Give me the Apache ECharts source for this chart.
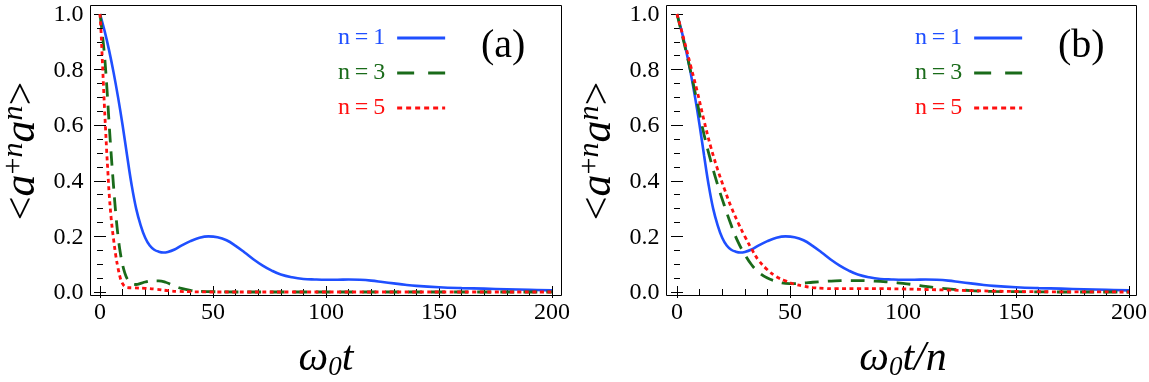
<!DOCTYPE html>
<html>
<head>
<meta charset="utf-8">
<script src="https://cdn.jsdelivr.net/npm/echarts@6/dist/echarts.min.js"></script>
<style>
  html, body { margin: 0; padding: 0; background: #fff; }
  #chart { width: 1149px; height: 382px; }
</style>
</head>
<body>
<div id="chart"></div>
<script>
// x ticks / y ticks
const xTicks = [0, 50, 100, 150, 200]
const yTicks = [0, 0.2, 0.4, 0.6, 0.8, 1.0]

// n=1 (same in both panels, t/n = t)
const blueT = [0,2,4,6,8,10,12,14,16,18,20,22,24,26,28,30,33,36,40,44,48,52,56,60,64,68,72,76,80,85,90,95,100,105,110,115,120,125,130,135,140,150,160,170,180,190,200]
const blueY = [1.0,0.94,0.87,0.79,0.70,0.60,0.49,0.385,0.30,0.24,0.195,0.167,0.152,0.145,0.142,0.144,0.153,0.167,0.183,0.195,0.2,0.197,0.186,0.166,0.142,0.117,0.095,0.077,0.063,0.053,0.047,0.045,0.044,0.044,0.045,0.044,0.041,0.036,0.031,0.026,0.022,0.017,0.014,0.012,0.010,0.008,0.006]

// panel (a), n=3 and n=5 vs w0 t
const greenAT = [0,1,2,3,4,5,6,7,8,9,10,11,12,13,14,16,18,20,23,26,29,32,36,40,45,50,60,80,100,150,200]
const greenAY = [1.0,0.93,0.85,0.74,0.61,0.49,0.38,0.28,0.2,0.14,0.098,0.068,0.048,0.036,0.03,0.027,0.031,0.036,0.04,0.04,0.035,0.025,0.013,0.006,0.002,0.001,0,0,0,0,0]
const redAT = [0,0.5,1,1.5,2,2.5,3,3.5,4,5,6,7,8,9,10,11,12,15,20,25,30,35,40,50,100,200]
const redAY = [1.0,0.93,0.84,0.75,0.66,0.58,0.5,0.43,0.36,0.26,0.19,0.13,0.085,0.05,0.03,0.02,0.016,0.015,0.013,0.01,0.005,0.002,0.001,0,0,0]

// panel (b), n=3 and n=5 vs w0 t / n
const greenBT = [0,3,6,9,12,15,18,21,24,27,30,33,36,40,44,48,52,56,60,65,70,75,80,85,90,95,100,105,110,115,120,130,140,150,170,200]
const greenBY = [1.0,0.9,0.795,0.68,0.565,0.47,0.385,0.31,0.24,0.18,0.135,0.098,0.072,0.05,0.038,0.031,0.03,0.032,0.035,0.038,0.04,0.041,0.041,0.04,0.038,0.035,0.031,0.026,0.02,0.015,0.011,0.005,0.002,0.001,0,0]
const redBT = [0,3,6,9,12,15,18,21,24,27,30,33,36,40,44,48,52,56,60,65,70,80,90,100,110,120,130,140,150,160,200]
const redBY = [1.0,0.91,0.815,0.72,0.615,0.52,0.44,0.37,0.305,0.25,0.2,0.155,0.115,0.08,0.055,0.04,0.028,0.021,0.016,0.013,0.012,0.012,0.012,0.011,0.009,0.007,0.005,0.003,0.002,0.001,0]

const BLUE = '#1f4fff', GREEN = '#1a6b1a', RED = '#ff1010'
const SERIF = '"Liberation Serif", "DejaVu Serif", serif'
const W = 1149

const pairs = (xs, ys) => xs.map((x, i) => [x, ys[i]])

// measure text width for centring
const ctx = document.createElement('canvas').getContext('2d')
const measure = (s, font) => { ctx.font = font + ' ' + SERIF; return ctx.measureText(s).width }

// layout of the two panels (data area + outer frame)
const panels = [
  { left: 100, top: 14, width: 452, height: 278, frame: [90.5, 5.5, 471, 290], tag: '(a)', xsub: 't' },
  { left: 677, top: 14, width: 452, height: 278, frame: [666.5, 5.5, 470, 290], tag: '(b)', xsub: 't/n' }
]

const tickStyle = { show: true, inside: true, length: 6, lineStyle: { color: '#000', width: 1 } }
const minorStyle = (n) => ({ show: true, splitNumber: n, length: 3, lineStyle: { color: '#000', width: 1 } })

let chart = echarts.init(document.getElementById('chart'))

const grid = panels.map(p => ({ left: p.left, top: p.top, width: p.width, height: p.height }))
const xAxis = [], yAxis = []
panels.forEach((p, i) => {
  // frame ticks on all four sides (labels are drawn as serif titles below)
  ;['bottom', 'top'].forEach((pos, j) => xAxis.push({
    type: 'value', gridIndex: i, min: xTicks[0], max: xTicks[xTicks.length - 1], interval: 50,
    position: pos, offset: j ? 9 : 3,
    axisLine: { show: false }, axisTick: tickStyle, minorTick: minorStyle(5), splitLine: { show: false },
    axisLabel: { show: false }
  }))
  ;['left', 'right'].forEach((pos, j) => yAxis.push({
    type: 'value', gridIndex: i, min: yTicks[0], max: yTicks[yTicks.length - 1], interval: 0.2,
    position: pos, offset: j ? 10 : 9,
    axisLine: { show: false }, axisTick: tickStyle, minorTick: minorStyle(4), splitLine: { show: false },
    axisLabel: { show: false }
  }))
})

const curves = [
  [pairs(blueT, blueY), pairs(greenAT, greenAY), pairs(redAT, redAY)],
  [pairs(blueT, blueY), pairs(greenBT, greenBY), pairs(redBT, redBY)]
]
const names = ['n=1', 'n=3', 'n=5']
const styles = [
  { color: BLUE, width: 2.6, type: 'solid' },
  { color: GREEN, width: 2.8, type: [14, 9] },
  { color: RED, width: 2.8, type: [4, 3.5] }
]
const legendLines = [
  { color: BLUE, width: 3, type: 'solid' },
  { color: GREEN, width: 3, type: [17, 14] },
  { color: RED, width: 3, type: [5, 4] }
]
const series = []
curves.forEach((set, i) => {
  set.forEach((d, k) => {
    series.push({
      name: names[k], type: 'line', xAxisIndex: i * 2, yAxisIndex: i * 2,
      data: d, symbol: 'none', smooth: 0.4, clip: false,
      color: styles[k].color, lineStyle: styles[k]
    })
  })
})

const textColors = [BLUE, GREEN, RED]
const legend = panels.map(p => ({
  orient: 'vertical', left: p.left + 233, top: 21, align: 'right',
  itemWidth: 48, itemHeight: 14, itemGap: 11, selectedMode: false,
  itemStyle: { opacity: 0 },
  formatter: n => n.replace('=', '\u2009=\u2009'),
  textStyle: { fontFamily: SERIF, fontSize: 24, padding: [0, 7, 0, 0] },
  data: names.map((n, k) => ({ name: n, textStyle: { color: textColors[k] }, lineStyle: legendLines[k] }))
}))

const plainTitle = (text, pos, size) => Object.assign({
  text: text, padding: 0,
  textStyle: { fontFamily: SERIF, fontSize: size, fontWeight: 'normal', fontStyle: 'normal', color: '#000' }
}, pos)

chart.setOption({
  animation: false,
  backgroundColor: '#fff',
  legend: legend,
  grid: grid,
  xAxis: xAxis,
  yAxis: yAxis,
  series: series
})

// texts placed through the axes' own scales
const titles = []
const gfx = []
panels.forEach((p, i) => {
  const f = p.frame
  titles.push(plainTitle(p.tag, { left: p.left + 381, top: 26 }, 40))
  xTicks.forEach(v => {
    const px = chart.convertToPixel({ xAxisIndex: i * 2 }, v)
    const s = String(v)
    titles.push(plainTitle(s, { left: px - measure(s, 'normal normal 24px') / 2, top: 301 }, 24))
  })
  yTicks.forEach(v => {
    const py = chart.convertToPixel({ yAxisIndex: i * 2 }, v)
    titles.push(plainTitle(v.toFixed(1), { right: W - (f[0] - 7), top: py - 11 }, 24))
  })
  // x axis title: omega_0 t
  const cx = chart.convertToPixel({ xAxisIndex: i * 2 }, (xTicks[0] + xTicks[xTicks.length - 1]) / 2)
  const wName = measure('ω', 'italic normal 42px') + measure('0', 'italic normal 27px') + measure(p.xsub, 'italic normal 42px')
  const xt = plainTitle('{w|ω}{s|0}{t|' + p.xsub + '}', { left: cx - wName / 2, top: 337 }, 42)
  xt.textStyle.rich = {
    w: { fontFamily: SERIF, fontStyle: 'italic', fontSize: 42, lineHeight: 44 },
    t: { fontFamily: SERIF, fontStyle: 'italic', fontSize: 42, lineHeight: 44 },
    s: { fontFamily: SERIF, fontStyle: 'italic', fontSize: 27, lineHeight: 26, verticalAlign: 'bottom' }
  }
  titles.push(xt)
  // y axis title, rotated
  const cy = chart.convertToPixel({ yAxisIndex: i * 2 }, 0.5)
  gfx.push({
    type: 'rect', shape: { x: f[0], y: f[1], width: f[2], height: f[3] },
    style: { fill: 'none', stroke: '#000', lineWidth: 1 }, z: 10, silent: true
  })
  gfx.push({
    type: 'text', x: f[0] - 68, y: cy - 2, rotation: Math.PI / 2, silent: true,
    style: {
      text: '{m|<}{i|a}{s|+}{si|n}{i|a}{si|n}{m|>}', fill: '#000',
      font: '42px ' + SERIF, align: 'center', verticalAlign: 'middle',
      rich: {
        m: { font: '42px ' + SERIF, lineHeight: 46 },
        i: { font: 'italic 44px ' + SERIF, lineHeight: 46 },
        s: { font: '30px ' + SERIF, lineHeight: 26, verticalAlign: 'top' },
        si: { font: 'italic 30px ' + SERIF, lineHeight: 26, verticalAlign: 'top' }
      }
    }
  })
})
chart.setOption({ title: titles, graphic: gfx })
</script>
</body>
</html>
